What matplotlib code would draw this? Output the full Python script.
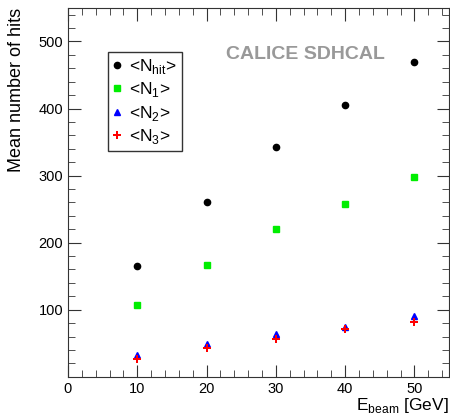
import matplotlib
matplotlib.use('Agg')
import matplotlib.pyplot as plt
from matplotlib.ticker import MultipleLocator

plt.rcParams['font.family'] = ['Liberation Sans', 'DejaVu Sans']
plt.rcParams['mathtext.fontset'] = 'custom'
plt.rcParams['mathtext.rm'] = 'Liberation Sans'

# beam energies (GeV) and mean hit counts
energy = [10, 20, 30, 40, 50]
n_hit = [165, 261, 342, 405, 469]
n_1 = [107, 167, 220, 258, 298]
n_2 = [33, 49, 64, 75, 91]
n_3 = [26, 43, 57, 72, 81]

fig = plt.figure(figsize=(4.5, 4.15), dpi=100)
ax = fig.add_axes([0.151, 0.092, 0.847, 0.889])

ax.plot(energy, n_hit, 'o', color='black', ms=4.5, label=r'<N$_{\rm hit}$>')
ax.plot(energy, n_1, 's', color='#00ee00', ms=4.5, label=r'<N$_{1}$>')
ax.plot(energy, n_2, '^', color='blue', ms=4.5, label=r'<N$_{2}$>')
ax.plot(energy, n_3, 'P', color='red', ms=5.5, mew=0, label=r'<N$_{3}$>')

ax.set_xlim(0, 55)
ax.set_ylim(0, 550)
ax.xaxis.set_major_locator(MultipleLocator(10))
ax.xaxis.set_minor_locator(MultipleLocator(2))
ax.set_yticks([100, 200, 300, 400, 500])
ax.yaxis.set_minor_locator(MultipleLocator(20))
ax.tick_params(which='both', direction='in', top=True, right=True, labelsize=10.5,
               colors='#333333', labelcolor='black')
ax.tick_params(which='major', length=9)
ax.tick_params(which='minor', length=5)
for s in ax.spines.values():
    s.set_color('#333333')

ax.set_xlabel(r'E$_{\rm beam}$ [GeV]', fontsize=12.5, loc='right', labelpad=0.5)
ax.set_ylabel('Mean number of hits', fontsize=13, loc='top', labelpad=10)

ax.text(0.622, 0.873, 'CALICE SDHCAL', transform=ax.transAxes, ha='center', va='center',
        fontsize=14, fontweight='bold', color='#999999')

leg = ax.legend(loc='upper left', bbox_to_anchor=(0.105, 0.881), fontsize=12.5, frameon=True,
                fancybox=False, edgecolor='black', handlelength=0.4, handletextpad=0.5,
                labelspacing=0.25, borderpad=0.3, borderaxespad=0, markerscale=1.0)
leg.get_frame().set_linewidth(1.0)

fig.savefig('out.png', dpi=100)
